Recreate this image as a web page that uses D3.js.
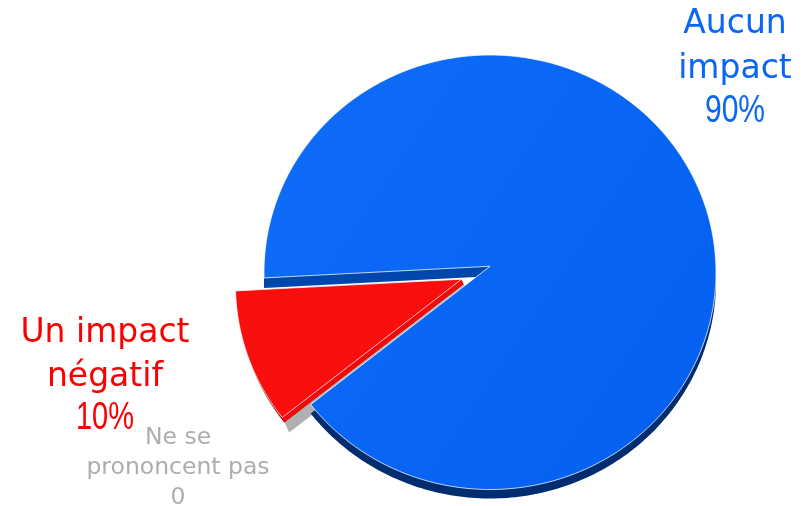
<!DOCTYPE html>
<html><head><meta charset="utf-8">
<script src="https://cdn.jsdelivr.net/npm/d3@7"></script>
<style>html,body{margin:0;padding:0;background:#fff}svg{display:block}text{font-family:"DejaVu Sans",sans-serif;text-anchor:middle}</style>
</head><body><svg id="c" width="804" height="506"></svg>
<script>
// Data (pie order is clockwise from the start angle)
const categories = ["Aucun impact", "Ne se prononcent pas", "Un impact négatif"];
const values = [90, 0, 10];
const valueLabels = ["90%", "0", "10%"];
const topColors = ["url(#gBlue)", "#b0b0b0", "url(#gRed)"];
const wallColors = ["#0047ad", "#b0b0b0", "#f20a0a"];
const rimColors = ["#002c70", "#b0b0b0", "#9c1414"];
const explode = [[0, 0], [0, 0], [-28.5, 13]];
const labelLines = [["Aucun", "impact", "90%"], ["Ne se", "prononcent pas", "0"], ["Un impact", "négatif", "10%"]];
const labelWidths = [[null, null, 60], [null, null, null], [null, null, 58]];
const labelX = [735, 178, 105];
const labelBase = [33, 444, 342];
const labelStep = [44.5, 30, 43.5];
const labelSize = [33, 23.5, 33];
const labelFill = ["#0a66f5", "#adadad", "#fb0000"];

const svg = d3.select("#c");
const defs = svg.append("defs");
function grad(id, a, b) {
  const g = defs.append("linearGradient").attr("id", id).attr("gradientUnits", "userSpaceOnUse")
    .attr("x1", 264).attr("y1", 100).attr("x2", 716).attr("y2", 400);
  g.append("stop").attr("offset", 0).attr("stop-color", a);
  g.append("stop").attr("offset", 1).attr("stop-color", b);
}
grad("gBlue", "#0f6cf9", "#0460f0");
grad("gRed", "#fa0f0f", "#f80b0b");
const soft = defs.append("filter").attr("id", "soft").attr("x", "-5%").attr("y", "-5%").attr("width", "110%").attr("height", "110%").attr("color-interpolation-filters", "sRGB");
soft.append("feGaussianBlur").attr("stdDeviation", 0.45);

const deg = Math.PI / 180;
const pie = d3.pie().value(d => d).sort(null).startAngle(268.5 * deg).endAngle((268.5 + 360) * deg);
const arcs = pie(values);

// Tilted disc: unit coordinates to page pixels; the apex sits above the ellipse centre.
const sx = d3.scaleLinear().domain([-1, 1]).range([264, 716]);
const sy = d3.scaleLinear().domain([-1, 1]).range([55, 489.5]);
const apexLift = 6;
const rimPt = a => [sx(Math.sin(a)), sy(-Math.cos(a))];
const apex = [sx(0), sy(0) - apexLift];
const line = d3.line();
function slicePts(d) {
  const n = Math.max(2, Math.ceil((d.endAngle - d.startAngle) / (1 * deg)));
  const rim = d3.range(n + 1).map(i => rimPt(d.startAngle + (d.endAngle - d.startAngle) * i / n));
  return [apex, ...rim];
}
const path = pts => line(pts) + "Z";
const layer = svg.append("g").attr("filter", "url(#soft)");

const blue = arcs[0], grey = arcs[1], red = arcs[2];
const t = (p, q) => p.map(([x, y]) => [x + q[0], y + q[1]]);

// zero slice: only its side wall is visible
const gEdge = [apex, rimPt(grey.startAngle)];
const gA = t(gEdge, explode[2]);
const gDepth = [7, 15];
layer.append("path").attr("d", path([gA[0], gA[1], ...t([gA[1], gA[0]], gDepth)])).attr("fill", wallColors[1]);

// blue extrusion
const bPts = slicePts(blue);
layer.append("path").attr("d", path(t(bPts, [0, 9]))).attr("fill", rimColors[0]);
const bWall = [apex, rimPt(blue.startAngle)];
layer.append("path").attr("d", path([bWall[0], bWall[1], ...t([bWall[1], bWall[0]], [0, 10])])).attr("fill", wallColors[0]);
layer.append("path").attr("d", path(bPts)).attr("fill", topColors[0]).attr("stroke", "#fff").attr("stroke-opacity", .75).attr("stroke-width", 1).attr("stroke-linejoin", "round");

// red slice
const rPts = t(slicePts(red), explode[2]);
const rDrop = [2, 5];
layer.append("path").attr("d", path(t(rPts, rDrop))).attr("fill", rimColors[2]);
const rEdge = [rPts[0], rPts[1]];
layer.append("path").attr("d", path([rEdge[0], rEdge[1], ...t([rEdge[1], rEdge[0]], rDrop)])).attr("fill", wallColors[2]);
layer.append("path").attr("d", path(rPts)).attr("fill", topColors[2]).attr("stroke", "#fff").attr("stroke-opacity", .8).attr("stroke-width", .9).attr("stroke-linejoin", "round");

// labels
const labels = svg.append("g").attr("filter", "url(#soft)");
categories.forEach((c, i) => {
  labelLines[i].forEach((s, j) => {
    const el = labels.append("text").attr("x", labelX[i]).attr("y", labelBase[i] + j * labelStep[i])
      .attr("font-size", labelSize[i]).attr("fill", labelFill[i]).text(s);
    if (labelWidths[i][j]) el.style("font-family", '"Liberation Sans",sans-serif').attr("font-size", 38).attr("textLength", labelWidths[i][j]).attr("lengthAdjust", "spacingAndGlyphs");
  });
});
</script></body></html>
